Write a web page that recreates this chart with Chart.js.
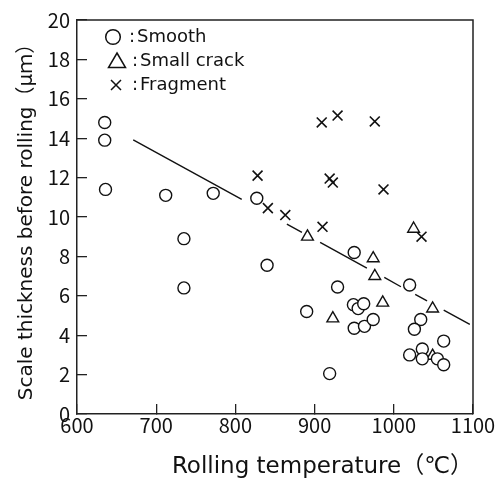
<!DOCTYPE html>
<html>
<head>
<meta charset="utf-8">
<script src="https://cdn.jsdelivr.net/npm/chart.js@4.4.1/dist/chart.umd.min.js"></script>
<style>
  html, body { margin: 0; padding: 0; background: #fff; }
  #wrap { width: 496px; height: 482px; }
</style>
</head>
<body>
<div id="wrap"><canvas id="chart" width="496" height="482"></canvas></div>
<script>
// 数据
const smoothX = [635, 635, 636, 712, 735, 735, 772, 827, 840, 890, 919, 929, 950, 949, 955, 962, 950, 963, 974, 1020, 1034, 1026, 1063, 1020, 1036, 1036, 1055, 1063];
const smoothY = [14.8, 13.9, 11.4, 11.1, 8.9, 6.4, 11.2, 10.95, 7.55, 5.2, 2.05, 6.45, 8.2, 5.55, 5.35, 5.6, 4.35, 4.45, 4.8, 6.55, 4.8, 4.3, 3.7, 3.0, 3.3, 2.8, 2.8, 2.5];

const crackX = [891, 1025, 974, 976, 986, 923, 1049, 1049];
const crackY = [9.0, 9.4, 7.9, 7.0, 5.65, 4.85, 5.35, 2.95];

const fragX = [828, 841, 863, 909, 929, 976, 919, 923, 987, 910, 1035];
const fragY = [12.1, 10.45, 10.1, 14.8, 15.15, 14.85, 11.95, 11.75, 11.4, 9.5, 9.0];

// 趋势线（null 处为断开）
const fitX = [671, 808, 836, 865, 884, 895, 907, 966, 977, 988, 1009, 1018, 1027, 1042, 1052, 1063, 1096];
const fitY = [13.92, 10.9, null, 9.64, 9.22, null, 8.71, 7.41, null, 6.93, 6.46, null, 6.07, 5.74, null, 5.27, 4.55];

const xTicks = [600, 700, 800, 900, 1000, 1100];
const yTicks = [0, 2, 4, 6, 8, 10, 12, 14, 16, 18, 20];

const seriesNames = ['Smooth', 'Small crack', 'Fragment'];
const xTitle = 'Rolling temperature（℃）';
const yTitle = 'Scale thickness before rolling（μｍ）';

const INK = '#111';
const TICK_FONT = '"Noto Sans CJK JP", "Noto Sans", sans-serif';
const TEXT_FONT = '"DejaVu Sans", "Noto Sans CJK JP", sans-serif';

function toPoints(xs, ys) {
    return xs.map((x, i) => ({ x: x, y: ys[i] }));
}

// 图例：画在绘图区左上角
const legendPlugin = {
    id: 'inlineLegend',
    afterDraw(chart) {
        const ctx = chart.ctx;
        const rows = [
            { style: 'circle', x: 113, y: 37 },
            { style: 'triangle', x: 117, y: 61 },
            { style: 'cross', x: 116, y: 85 }
        ];
        ctx.save();
        ctx.strokeStyle = INK;
        ctx.lineWidth = 1.5;
        ctx.fillStyle = INK;
        ctx.font = '18px ' + TEXT_FONT;
        ctx.textBaseline = 'middle';
        rows.forEach((r, i) => {
            ctx.beginPath();
            if (r.style === 'circle') {
                ctx.arc(r.x, r.y, 7.3, 0, Math.PI * 2);
            } else if (r.style === 'triangle') {
                ctx.moveTo(r.x, r.y - 8);
                ctx.lineTo(r.x + 8.5, r.y + 6.5);
                ctx.lineTo(r.x - 8.5, r.y + 6.5);
                ctx.closePath();
            } else {
                ctx.moveTo(r.x - 5, r.y - 5);
                ctx.lineTo(r.x + 5, r.y + 5);
                ctx.moveTo(r.x + 5, r.y - 5);
                ctx.lineTo(r.x - 5, r.y + 5);
            }
            ctx.stroke();
            ctx.fillText(':', i === 0 ? 129 : 132, r.y);
            ctx.fillText(seriesNames[i], i === 0 ? 137 : 140, r.y);
        });
        ctx.restore();
    }
};

// 绘图区上边和右边的框线
const framePlugin = {
    id: 'frame',
    afterDatasetsDraw(chart) {
        const { ctx, chartArea: a } = chart;
        ctx.save();
        ctx.strokeStyle = '#222';
        ctx.lineWidth = 1.5;
        ctx.beginPath();
        ctx.moveTo(a.left, a.top);
        ctx.lineTo(a.right, a.top);
        ctx.lineTo(a.right, a.bottom);
        ctx.stroke();
        ctx.restore();
    }
};

// 去掉刻度标签带来的额外边距，让 layout.padding 决定绘图区
function noLabelPadding(s) {
    s.paddingTop = 0;
    s.paddingBottom = 0;
    s.paddingLeft = 0;
    s.paddingRight = 0;
}

const markerBase = {
    borderColor: INK,
    backgroundColor: '#fff',
    borderWidth: 1.4,
    pointBackgroundColor: '#fff',
    pointBorderColor: INK,
    showLine: false
};

const chart = new Chart(document.getElementById('chart').getContext('2d'), {
    type: 'scatter',
    data: {
        datasets: [
            Object.assign({}, markerBase, {
                label: seriesNames[0],
                data: toPoints(smoothX, smoothY),
                pointStyle: 'circle',
                pointRadius: 6,
                order: 1
            }),
            Object.assign({}, markerBase, {
                label: seriesNames[1],
                data: toPoints(crackX, crackY),
                pointStyle: 'triangle',
                pointRadius: 6.8,
                order: 1
            }),
            Object.assign({}, markerBase, {
                label: seriesNames[2],
                data: toPoints(fragX, fragY),
                pointStyle: 'crossRot',
                pointRadius: 7,
                borderWidth: 1.6,
                order: 1
            }),
            {
                type: 'line',
                label: 'fit',
                data: toPoints(fitX, fitY),
                borderColor: INK,
                borderWidth: 1.4,
                pointRadius: 0,
                spanGaps: false,
                fill: false,
                order: 5
            }
        ]
    },
    options: {
        responsive: false,
        animation: false,
        events: [],
        layout: { padding: { top: 20, right: 23, left: 0, bottom: 0 } },
        plugins: {
            legend: { display: false },
            tooltip: { enabled: false }
        },
        scales: {
            x: {
                type: 'linear',
                min: 600,
                max: 1100,
                afterBuildTicks: (s) => { s.ticks = xTicks.map(v => ({ value: v })); },
                afterFit: (s) => { s.height = 68; noLabelPadding(s); },
                ticks: {
                    color: INK,
                    padding: 9,
                    maxRotation: 0,
                    callback: (v) => String(v),
                    font: { family: TICK_FONT, size: 20 }
                },
                grid: { drawOnChartArea: false, tickLength: -10, color: '#222', lineWidth: 1.3 },
                border: { display: true, color: '#222', width: 1.5 },
                title: {
                    display: true,
                    text: xTitle,
                    align: 'end',
                    color: INK,
                    font: { family: TEXT_FONT, size: 23 },
                    padding: { top: 0, bottom: 1 }
                }
            },
            y: {
                type: 'linear',
                min: 0,
                max: 20,
                afterBuildTicks: (s) => { s.ticks = yTicks.map(v => ({ value: v })); },
                afterFit: (s) => { s.width = 77; noLabelPadding(s); },
                ticks: {
                    color: INK,
                    padding: 17,
                    callback: (v) => String(v),
                    font: { family: TICK_FONT, size: 20 }
                },
                grid: { drawOnChartArea: false, tickLength: -10, color: '#222', lineWidth: 1.3 },
                border: { display: true, color: '#222', width: 1.5 },
                title: {
                    display: true,
                    text: yTitle,
                    color: INK,
                    font: { family: TEXT_FONT, size: 20 },
                    padding: { top: 15, bottom: 0 }
                }
            }
        }
    },
    plugins: [framePlugin, legendPlugin]
});
</script>
</body>
</html>
